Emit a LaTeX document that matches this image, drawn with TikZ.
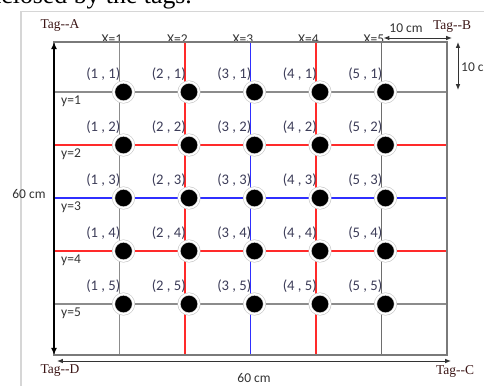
\documentclass[tikz,border=0pt]{standalone}
\usepackage{fontspec}
\setmainfont{Liberation Serif}
\newfontfamily\labelfont{Carlito}
\usepackage{tikz}
\usetikzlibrary{positioning,arrows.meta,calc}
\definecolor{gridgray}{HTML}{8C8C8C}
\definecolor{gridgraydark}{HTML}{6E6E6E}
\definecolor{gridred}{HTML}{FF2A2A}
\definecolor{gridblue}{HTML}{2F2FFF}
\definecolor{bordergray}{HTML}{7A7A7A}
\definecolor{framegray}{HTML}{D6D6D6}
\definecolor{haloring}{HTML}{C4C4C4}
\definecolor{coordink}{HTML}{3C3C58}
\definecolor{tagink}{HTML}{3A1414}
\definecolor{dimink}{HTML}{333333}
\tikzset{
    gridline/.style={line width=1.2pt},
    borderline/.style={draw=bordergray, line width=1.4pt},
    spot/.style={
        circle, fill=black, draw=haloring, double=white,
        double distance=1.6pt, line width=0.5pt,
        minimum size=17pt, inner sep=0pt
    },
    coordlabel/.style={
        font=\labelfont\fontsize{12.5}{13}\selectfont,
        text=coordink, inner sep=0pt
    },
    axislabel/.style={
        font=\labelfont\fontsize{11.5}{12}\selectfont,
        text=dimink, inner sep=0pt
    },
    taglabel/.style={
        font=\fontsize{11.5}{12}\selectfont,
        text=tagink, inner sep=0pt
    },
    sidearrow/.style={{Latex[length=6pt,width=5pt]}-{Latex[length=6pt,width=5pt]}, line width=1.6pt, black},
    dimarrow/.style={{Latex[length=5pt,width=4pt]}-{Latex[length=5pt,width=4pt]}, line width=0.8pt, black!80},
}
\begin{document}
\begin{tikzpicture}[x=0.03cm, y=-0.03cm]
    \useasboundingbox (0,0) rectangle (484,385);
    \clip (0,0) rectangle (484,385);
    % page frame and the line of text above it
    \draw[framegray, line width=1.4pt] (21,390) -- (21,11.5) -- (490,11.5);
    \node[anchor=base east, font=\fontsize{22}{24}\selectfont] (caption) at (196,3) {enclosed by the tags.};
    % corners of the field
    \coordinate (nw) at (54,42);
    \coordinate (ne) at (447,42);
    \coordinate (sw) at (54,355);
    \coordinate (se) at (447,355);
    % rows y=1..5
    \foreach \j/\yy/\c in {1/92/gridgray,2/145/gridred,3/198/gridblue,4/251/gridred,5/304/gridgray}{
        \coordinate (w\j) at (54,\yy);
        \coordinate (e\j) at (447,\yy);
        \draw[gridline, \c] (w\j) -- (e\j);
        \node[axislabel, anchor=north west] (Y\j) at ($(w\j)+(7,4)$) {y=\j};
    }
    % columns X=1..5
    \foreach \i/\xx/\c in {1/119.5/gridgray,2/185/gridred,3/250.5/gridblue,4/316/gridred,5/381.5/gridgraydark}{
        \coordinate (n\i) at (\xx,42);
        \coordinate (s\i) at (\xx,355);
        \draw[gridline, \c] (n\i) -- (s\i);
        \node[axislabel, anchor=south east] (X\i) at ($(n\i)+(3,2)$) {X=\i};
    }
    \draw[borderline] (nw) rectangle (se);
    % tag positions on the crossings
    \foreach \i/\xx in {1/119.5,2/185,3/250.5,4/316,5/381.5}
        \foreach \j/\yy in {1/92,2/145,3/198,4/251,5/304}{
            \node[spot] (p\i\j) at (\xx+4,\yy) {};
            \node[coordlabel, anchor=south east] (l\i\j) at (\xx+1,\yy-11) {(\i~,~\j)};
        }
    % dimensions
    \draw[sidearrow] (sw) -- (nw);
    \node[axislabel] (lenleft) at (29,194) {60 cm};
    \coordinate (dimL) at (57,361);
    \coordinate (dimR) at (451,361);
    \draw[dimarrow] (dimL) -- (dimR);
    \node[axislabel] (lenbottom) at (254,378) {60 cm};
    \coordinate (tenL) at ($(n5)+(2,-4)$);
    \coordinate (tenR) at (452,38);
    \draw[dimarrow] (tenL) -- (tenR);
    \node[axislabel] (lentop) at (406,28) {10 cm};
    \coordinate (tenT) at (458,42);
    \coordinate (tenB) at (458,90);
    \draw[dimarrow] (tenT) -- (tenB);
    \node[axislabel, anchor=west] (lenright) at (461,67) {10 cm};
    % corner tags
    \node[taglabel] (tagA) at (60,26) {Tag-{}-A};
    \node[taglabel] (tagB) at (452,27) {Tag-{}-B};
    \node[taglabel] (tagC) at (455,371) {Tag-{}-C};
    \node[taglabel] (tagD) at (60,371) {Tag-{}-D};
\end{tikzpicture}
\end{document}
